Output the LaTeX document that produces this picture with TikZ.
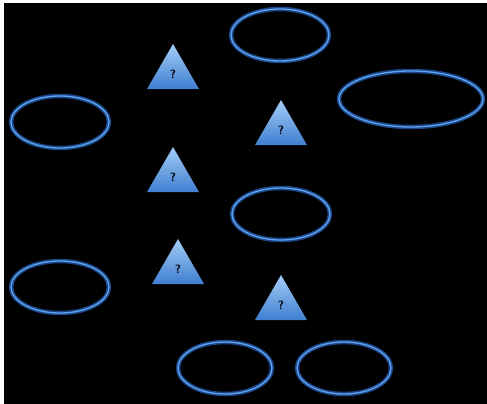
\documentclass[tikz,border=0pt]{standalone}
\usepackage{tikz}
\usetikzlibrary{shapes.geometric}

\definecolor{ringdark}{HTML}{1C4686}
\definecolor{ringlight}{HTML}{5EA6F2}
\definecolor{tritop}{HTML}{A4CDF6}
\definecolor{tribot}{HTML}{3F7ED0}

\tikzset{
  ring/.style={ellipse, draw=ringdark, line width=4.5pt, inner sep=0pt,
    minimum width=98pt, minimum height=52pt,
    postaction={draw=ringlight, line width=1.3pt}},
  query/.style={regular polygon, regular polygon sides=3, inner sep=0pt,
    minimum size=60pt, top color=tritop, bottom color=tribot,
    font=\sffamily\bfseries\large, text=black}
}

\begin{document}
\begin{tikzpicture}[x=1pt, y=-1pt]

% Page and dark backdrop
\fill[white] (0,0) rectangle (487,404);
\fill[black] (4,3) rectangle (487,404);

%% ---- rings ---------------------------------------------
\node[ring] (rtop)   at (280,35)  {};
\node[ring, minimum width=144pt, minimum height=56pt] (rright) at (411,99) {};
\node[ring] (rleftA) at (60,122)  {};
\node[ring] (rmid)   at (281,214) {};
\node[ring] (rleftB) at (60,287)  {};
\node[ring, minimum width=94pt] (rbotA) at (225,368) {};
\node[ring, minimum width=94pt] (rbotB) at (344,368) {};

%% ---- question triangles --------------------------------
\node[query] (qa) at (173,74)  {?};
\node[query] (qb) at (281,130) {?};
\node[query] (qc) at (173,177) {?};
\node[query] (qd) at (178,269) {?};
\node[query] (qe) at (281,305) {?};

\end{tikzpicture}
\end{document}
